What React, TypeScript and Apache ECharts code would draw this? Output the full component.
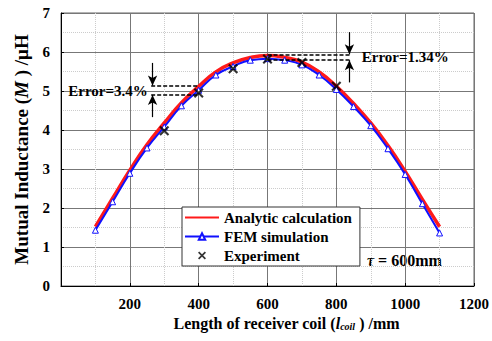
import React, { useEffect, useRef } from "react";
import * as echarts from "echarts";

const xTicks = [0, 200, 400, 600, 800, 1000, 1200];
const analyticX = [100, 150, 200, 250, 300, 350, 400, 450, 500, 550, 600, 650, 700, 750, 800, 850, 900, 950, 1000, 1050, 1100];
const analyticY = [1.52, 2.25, 2.97, 3.63, 4.18, 4.7, 5.12, 5.49, 5.72, 5.86, 5.91, 5.86, 5.74, 5.49, 5.12, 4.68, 4.18, 3.6, 2.94, 2.22, 1.52];
const femX = [100, 150, 200, 250, 300, 350, 400, 450, 500, 550, 600, 650, 700, 750, 800, 850, 900, 950, 1000, 1050, 1100];
const femY = [1.43, 2.16, 2.89, 3.54, 4.08, 4.62, 5.02, 5.41, 5.63, 5.79, 5.83, 5.79, 5.67, 5.41, 5.04, 4.6, 4.11, 3.52, 2.86, 2.11, 1.36];
const expX = [300, 400, 500, 600, 700, 800];
const expY = [3.98, 4.95, 5.57, 5.82, 5.73, 5.12];

const FONT = "'Liberation Serif', 'Times New Roman', serif";
const X_ICON = "path://M0,1.5L1.5,0L5,3.5L8.5,0L10,1.5L6.5,5L10,8.5L8.5,10L5,6.5L1.5,10L0,8.5L3.5,5Z";

export default function App() {
  const ref = useRef<HTMLDivElement>(null);
  useEffect(() => {
    if (!ref.current) return;
    const chart = echarts.init(ref.current, undefined, { renderer: "svg" });
    const dashed = { color: "#000", type: [4, 2] as any, width: 1.6 };
    const arrow = { color: "#000", type: "solid" as any, width: 1.2 };
    chart.setOption({
      animation: false,
      backgroundColor: "#fff",
      textStyle: { fontFamily: FONT },
      grid: { left: 61, right: 16, top: 13, bottom: 55, show: true, borderColor: "#666", borderWidth: 1 },
      legend: {
        left: 182,
        top: 207,
        orient: "vertical",
        backgroundColor: "#fff",
        borderColor: "#333",
        borderWidth: 1,
        padding: [3, 8, 3, 2],
        itemWidth: 34,
        itemHeight: 8,
        itemGap: 4,
        textStyle: { fontFamily: FONT, fontWeight: "bold", fontSize: 15, color: "#000" },
        data: [
          { name: "Analytic calculation", itemStyle: { opacity: 0 } },
          { name: "FEM simulation" },
          { name: "Experiment", icon: X_ICON },
        ],
      },
      xAxis: {
        type: "value",
        min: 0,
        max: 1200,
        interval: 200,
        name: "{n|Length of receiver coil (}{i|l}{s|coil}{n| ) /mm}",
        nameLocation: "middle",
        nameGap: 25,
        nameTextStyle: {
          padding: [0, 0, 0, 38],
          rich: {
            n: { fontFamily: FONT, fontWeight: "bold", fontSize: 16, color: "#000" },
            i: { fontFamily: FONT, fontWeight: "bold", fontStyle: "italic", fontSize: 16, color: "#000" },
            s: { fontFamily: FONT, fontWeight: "bold", fontStyle: "italic", fontSize: 10, color: "#000", verticalAlign: "bottom", padding: [6, 0, 0, 0] },
          },
        },
        axisLine: { show: true, lineStyle: { color: "#000", width: 1 } },
        axisTick: { show: true, inside: true, length: 3, lineStyle: { color: "#000" } },
        axisLabel: {
          fontFamily: FONT,
          fontWeight: "bold",
          fontSize: 15,
          color: "#000",
          margin: 10,
          formatter: (v: number) => (v === 0 ? "" : String(v)),
        },
        splitLine: { show: true, lineStyle: { color: "#777", width: 1 } },
        minorTick: { show: false, splitNumber: 2 },
        minorSplitLine: { show: true, lineStyle: { color: "#ccc", type: "dotted", width: 1 } },
      },
      yAxis: {
        type: "value",
        min: 0,
        max: 7,
        interval: 1,
        name: "{n|Mutual Inductance (}{i|M}{n| ) /μH}",
        nameLocation: "middle",
        nameGap: 30,
        nameTextStyle: {
          rich: {
            n: { fontFamily: FONT, fontWeight: "bold", fontSize: 19, color: "#000" },
            i: { fontFamily: FONT, fontWeight: "bold", fontStyle: "italic", fontSize: 19, color: "#000" },
          },
        },
        axisLine: { show: true, lineStyle: { color: "#000", width: 1 } },
        axisTick: { show: true, inside: true, length: 3, lineStyle: { color: "#000" } },
        axisLabel: { fontFamily: FONT, fontWeight: "bold", fontSize: 15, color: "#000", margin: 11 },
        splitLine: { show: true, lineStyle: { color: "#777", width: 1 } },
        minorTick: { show: false, splitNumber: 2 },
        minorSplitLine: { show: true, lineStyle: { color: "#ccc", type: "dotted", width: 1 } },
      },
      series: [
        {
          name: "Analytic calculation",
          type: "line",
          smooth: true,
          showSymbol: false,
          symbol: "none",
          color: "#ff1a1a",
          lineStyle: { color: "#ff1a1a", width: 3.5 },
          data: analyticX.map((x, i) => [x, analyticY[i]]),
          z: 2,
          markLine: {
            silent: true,
            symbol: ["none", "none"],
            label: { show: false },
            data: [
              [{ coord: [262, 5.13], lineStyle: dashed }, { coord: [400, 5.13] }],
              [{ coord: [262, 4.91], lineStyle: dashed }, { coord: [400, 4.91] }],
              [{ coord: [600, 5.93], lineStyle: dashed }, { coord: [841, 5.93] }],
              [{ coord: [600, 5.8], lineStyle: dashed }, { coord: [841, 5.8] }],
              [{ coord: [266, 5.72], lineStyle: arrow, symbol: "none" }, { coord: [266, 5.14], symbol: "arrow", symbolSize: [7, 10] }],
              [{ coord: [266, 4.33], lineStyle: arrow, symbol: "none" }, { coord: [266, 4.9], symbol: "arrow", symbolSize: [7, 10] }],
              [{ coord: [838, 6.51], lineStyle: arrow, symbol: "none" }, { coord: [838, 5.94], symbol: "arrow", symbolSize: [7, 10] }],
              [{ coord: [838, 5.22], lineStyle: arrow, symbol: "none" }, { coord: [838, 5.79], symbol: "arrow", symbolSize: [7, 10] }],
            ],
          },
          markPoint: {
            silent: true,
            symbol: "circle",
            symbolSize: 0,
            data: [
              {
                coord: [252, 5.0],
                label: { show: true, position: "left", distance: 0, formatter: "Error=3.4%", fontFamily: FONT, fontWeight: "bold", fontSize: 15, color: "#000" },
              },
              {
                coord: [874, 5.86],
                label: { show: true, position: "right", distance: 0, formatter: "Error=1.34%", fontFamily: FONT, fontWeight: "bold", fontSize: 15, color: "#000" },
              },
            ],
          },
        },
        {
          name: "FEM simulation",
          type: "line",
          smooth: true,
          symbol: "triangle",
          symbolSize: 6,
          showSymbol: true,
          color: "#1010ff",
          itemStyle: { color: "#fff", borderColor: "#1010ff", borderWidth: 1 },
          lineStyle: { color: "#1010ff", width: 2 },
          data: femX.map((x, i) => [x, femY[i]]),
          z: 3,
        },
        {
          name: "Experiment",
          type: "scatter",
          symbol: X_ICON,
          symbolSize: 10,
          itemStyle: { color: "#000" },
          data: expX.map((x, i) => [x, expY[i]]),
          z: 4,
        },
      ],
      graphic: [
        {
          type: "text",
          left: 367,
          top: 252,
          style: {
            text: "{i|τ}{n| = 600mm}",
            rich: {
              i: { fontFamily: FONT, fontWeight: "bold", fontStyle: "italic", fontSize: 16, fill: "#000" },
              n: { fontFamily: FONT, fontWeight: "bold", fontSize: 16, fill: "#000" },
            },
          },
        },
      ],
    });
    return () => chart.dispose();
  }, []);
  return <div ref={ref} style={{ width: 492, height: 341, position: "absolute", left: 0, top: 0 }} />;
}
